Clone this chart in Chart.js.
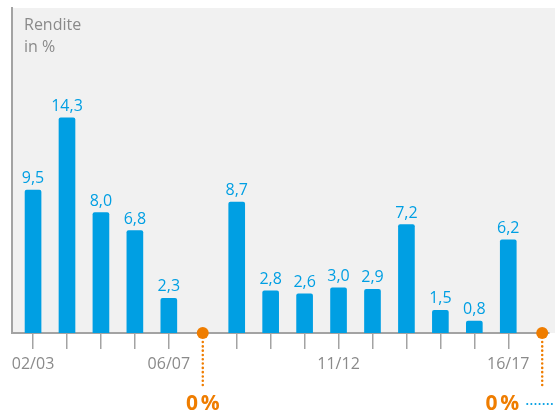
<!DOCTYPE html>
<html>
<head>
<meta charset="utf-8">
<script src="https://cdn.jsdelivr.net/npm/chart.js@4"></script>
<style>
  html, body { margin: 0; padding: 0; background: #fff; }
  #wrap { width: 555px; height: 414px; }
</style>
</head>
<body>
<div id="wrap"><canvas id="returns-chart"></canvas></div>
<script>
const categories = ['02/03', '03/04', '04/05', '05/06', '06/07', '07/08', '08/09', '09/10',
  '10/11', '11/12', '12/13', '13/14', '14/15', '15/16', '16/17', '17/18'];
const returns = [9.5, 14.3, 8.0, 6.8, 2.3, 0, 8.7, 2.8, 2.6, 3.0, 2.9, 7.2, 1.5, 0.8, 6.2, 0];
const tickLabels = ['02/03', '06/07', '11/12', '16/17'];
const titleLines = ['Rendite', 'in %'];

const BLUE = '#009fe3';
const ORANGE = '#ef7d00';
const GRAY = '#a3a3a3';
const TEXT_GRAY = '#8a8a8a';
const FONT = '"Open Sans", "Noto Sans", sans-serif';

const formatValue = (v) => v.toFixed(1).replace('.', ',');

const barPoints = returns.map((v, i) => ({ x: i, y: v > 0 ? v : null }));
const zeroPoints = returns
  .map((v, i) => ({ x: i, y: v }))
  .filter((p) => p.y === 0);
const tickValues = returns.map((v, i) => i).filter((i) => returns[i] > 0);

const chartDecorations = {
  id: 'chartDecorations',
  beforeDraw(chart) {
    const { ctx, chartArea } = chart;
    ctx.save();
    ctx.fillStyle = '#f1f1f1';
    ctx.fillRect(chartArea.left, chartArea.top, chart.width - chartArea.left, chartArea.bottom - chartArea.top);
    ctx.restore();
  },
  afterDatasetsDraw(chart) {
    const { ctx, scales } = chart;
    ctx.save();

    // title top left
    ctx.fillStyle = TEXT_GRAY;
    ctx.font = '16px ' + FONT;
    ctx.textAlign = 'left';
    ctx.textBaseline = 'alphabetic';
    ctx.fillText(titleLines[0], 24, 30);
    ctx.fillText(titleLines[1], 24, 52);

    // value labels above bars
    ctx.fillStyle = BLUE;
    ctx.textAlign = 'center';
    chart.getDatasetMeta(0).data.forEach((bar, i) => {
      if (returns[i] > 0) {
        ctx.fillText(formatValue(returns[i]), bar.x, bar.y - 7);
      }
    });

    // zero markers: dotted line + "0 %"
    const last = zeroPoints[zeroPoints.length - 1];
    zeroPoints.forEach((p) => {
      const x = scales.x.getPixelForValue(p.x);
      const y = scales.y.getPixelForValue(0);
      ctx.strokeStyle = ORANGE;
      ctx.lineWidth = 2.5;
      ctx.lineCap = 'round';
      ctx.setLineDash([0.1, 4.2]);
      ctx.beginPath();
      ctx.moveTo(x, y + 9);
      ctx.lineTo(x, 387);
      ctx.stroke();

      ctx.setLineDash([]);
      ctx.fillStyle = ORANGE;
      ctx.font = 'bold 21px ' + FONT;
      ctx.textBaseline = 'alphabetic';
      if (p === last) {
        ctx.textAlign = 'right';
        ctx.fillText('0\u202F%', x - 23, 410);
        ctx.strokeStyle = BLUE;
        ctx.lineWidth = 2;
        ctx.setLineDash([0.1, 4]);
        ctx.beginPath();
        ctx.moveTo(x - 15, 404);
        ctx.lineTo(chart.width, 404);
        ctx.stroke();
        ctx.setLineDash([]);
      } else {
        ctx.textAlign = 'center';
        ctx.fillText('0\u202F%', x, 410);
      }
    });
    ctx.restore();
  }
};

new Chart(document.getElementById('returns-chart'), {
  type: 'bar',
  data: {
    datasets: [
      {
        type: 'bar',
        data: barPoints,
        backgroundColor: BLUE,
        barThickness: 16,
        borderRadius: { topLeft: 2, topRight: 2 },
        borderSkipped: 'bottom'
      },
      {
        type: 'scatter',
        data: zeroPoints,
        backgroundColor: ORANGE,
        borderWidth: 0,
        pointRadius: 6,
        clip: false
      }
    ]
  },
  options: {
    responsive: true,
    maintainAspectRatio: false,
    animation: false,
    layout: { padding: { top: 8, left: 0, right: 0, bottom: 0 } },
    plugins: {
      legend: { display: false },
      tooltip: { enabled: false }
    },
    scales: {
      x: {
        type: 'linear',
        offset: false,
        min: -0.62,
        max: 15.2,
        afterBuildTicks: (scale) => {
          scale.ticks = tickValues.map((v) => ({ value: v }));
        },
        afterFit: (scale) => { scale.height = 81; scale.paddingLeft = 0; scale.paddingRight = 0; },
        ticks: {
          autoSkip: false,
          maxRotation: 0,
          padding: 6,
          color: TEXT_GRAY,
          font: { family: FONT, size: 16 },
          callback: (value) => (tickLabels.includes(categories[value]) ? categories[value] : '')
        },
        grid: {
          display: true,
          offset: false,
          drawOnChartArea: false,
          drawTicks: true,
          tickLength: 16,
          color: GRAY,
          lineWidth: 1.5
        },
        border: { display: true, color: GRAY, width: 2 }
      },
      y: {
        min: 0,
        max: 21.6,
        afterFit: (scale) => { scale.width = 12; },
        ticks: { display: false },
        grid: { display: false },
        border: { display: true, color: GRAY, width: 2 }
      }
    }
  },
  plugins: [chartDecorations]
});
</script>
</body>
</html>
